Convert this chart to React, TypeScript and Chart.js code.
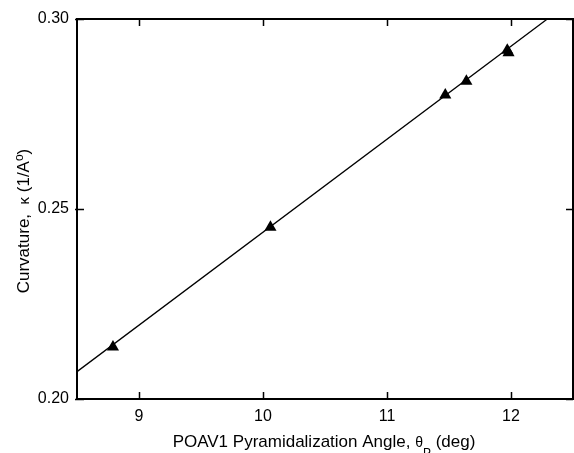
import { useEffect, useRef } from 'react';
import { Chart, registerables } from 'chart.js';

Chart.register(...registerables);

// Data
const pointAngles = [8.79, 10.06, 11.47, 11.64, 11.97, 11.98];
const pointCurvatures = [0.2137, 0.2452, 0.28, 0.2836, 0.2918, 0.2911];
const fitAngles = [8.5, 12.293];
const fitCurvatures = [0.2072, 0.3];
const xTickValues = [9, 10, 11, 12];
const yTickValues = [0.2, 0.25, 0.3];
const X_MIN = 8.5;
const X_MAX = 12.5;
const Y_MIN = 0.2;
const Y_MAX = 0.3;

const FONT = '"Liberation Sans", Arial, sans-serif';

const framePlugin = {
  id: 'frame',
  afterDatasetsDraw(chart: any) {
    const { ctx, chartArea, scales } = chart;
    const { left, right, top, bottom } = chartArea;
    const xs = scales.x;
    const ys = scales.y;
    ctx.save();
    ctx.strokeStyle = '#000';
    ctx.lineWidth = 2;
    ctx.beginPath();
    ctx.rect(left, top, right - left, bottom - top);
    ctx.stroke();
    ctx.lineWidth = 1.5;
    const tl = 7;
    ctx.beginPath();
    xTickValues.forEach((v) => {
      const px = Math.round(xs.getPixelForValue(v)) + 0.5;
      ctx.moveTo(px, bottom);
      ctx.lineTo(px, bottom - tl);
      ctx.moveTo(px, top);
      ctx.lineTo(px, top + tl);
    });
    yTickValues.forEach((v) => {
      const py = Math.round(ys.getPixelForValue(v)) + 0.5;
      ctx.moveTo(left - 2, py);
      ctx.lineTo(left + tl, py);
      ctx.moveTo(right, py);
      ctx.lineTo(right - tl, py);
    });
    ctx.stroke();

    // X axis title with theta subscript P
    ctx.fillStyle = '#000';
    ctx.textBaseline = 'alphabetic';
    ctx.textAlign = 'left';
    const parts = [
      { t: 'POAV1 Pyramidalization Angle, ', f: `17px ${FONT}`, dy: 0 },
      { t: 'θ', f: `14px ${FONT}`, dy: 0 },
      { t: 'P', f: `12px ${FONT}`, dy: 10 },
      { t: ' (deg)', f: `17px ${FONT}`, dy: 0 },
    ];
    let total = 0;
    parts.forEach((p) => {
      ctx.font = p.f;
      total += ctx.measureText(p.t).width;
    });
    let x0 = (left + right) / 2 - total / 2 - 1;
    const base = 447;
    parts.forEach((p) => {
      ctx.font = p.f;
      ctx.fillText(p.t, x0, base + p.dy);
      x0 += ctx.measureText(p.t).width;
    });

    // Y axis title
    ctx.save();
    const yParts = [
      { t: 'Curvature,  ', f: `17px ${FONT}`, dy: 0 },
      { t: 'κ', f: `15px ${FONT}`, dy: 0 },
      { t: ' (1/A', f: `17px ${FONT}`, dy: 0 },
      { t: 'o', f: `12px ${FONT}`, dy: -6 },
      { t: ')', f: `17px ${FONT}`, dy: 0 },
    ];
    let ytotal = 0;
    yParts.forEach((p) => {
      ctx.font = p.f;
      ytotal += ctx.measureText(p.t).width;
    });
    const cy = 221;
    ctx.translate(29, cy + ytotal / 2);
    ctx.rotate(-Math.PI / 2);
    let yx = 0;
    yParts.forEach((p) => {
      ctx.font = p.f;
      ctx.fillText(p.t, yx, p.dy);
      yx += ctx.measureText(p.t).width;
    });
    ctx.restore();
    ctx.restore();
  },
};

export default function App() {
  const ref = useRef<HTMLCanvasElement | null>(null);
  useEffect(() => {
    if (!ref.current) return;
    const chart = new Chart(ref.current, {
      type: 'scatter',
      data: {
        datasets: [
          {
            type: 'line',
            data: fitAngles.map((x, i) => ({ x, y: fitCurvatures[i] })),
            borderColor: '#000',
            borderWidth: 1.3,
            pointRadius: 0,
            fill: false,
          } as any,
          {
            type: 'scatter',
            data: pointAngles.map((x, i) => ({ x, y: pointCurvatures[i] })),
            pointStyle: 'triangle',
            pointRadius: 7,
            backgroundColor: '#000',
            borderColor: '#000',
            borderWidth: 0,
          },
        ],
      },
      options: {
        animation: false,
        responsive: false,
        devicePixelRatio: 1,
        layout: { padding: { top: 19, right: 5, left: 0, bottom: 0 } },
        plugins: { legend: { display: false }, tooltip: { enabled: false } },
        scales: {
          x: {
            type: 'linear',
            min: X_MIN,
            max: X_MAX,
            grid: { display: false, drawTicks: false },
            border: { display: false },
            afterBuildTicks: (s: any) => {
              s.ticks = xTickValues.map((v) => ({ value: v }));
            },
            afterFit: (s: any) => {
              s.height = 54;
            },
            ticks: {
              color: '#000',
              padding: 8,
              maxRotation: 0,
              font: { family: FONT, size: 16 },
              callback: (v: any) => String(v),
            },
          },
          y: {
            type: 'linear',
            min: Y_MIN,
            max: Y_MAX,
            grid: { display: false, drawTicks: false },
            border: { display: false },
            afterBuildTicks: (s: any) => {
              s.ticks = yTickValues.map((v) => ({ value: v }));
            },
            afterFit: (s: any) => {
              s.width = 77;
            },
            ticks: {
              color: '#000',
              padding: 8,
              font: { family: FONT, size: 16 },
              callback: (v: any) => Number(v).toFixed(2),
            },
          },
        },
      },
      plugins: [framePlugin],
    });
    return () => chart.destroy();
  }, []);
  return (
    <div
      style={{
        position: 'fixed',
        left: 0,
        top: 0,
        width: 574,
        height: 453,
        overflow: 'hidden',
        background: '#fff',
      }}
    >
      <canvas ref={ref} width={580} height={453} style={{ display: 'block', width: 580, height: 453 }} />
    </div>
  );
}
